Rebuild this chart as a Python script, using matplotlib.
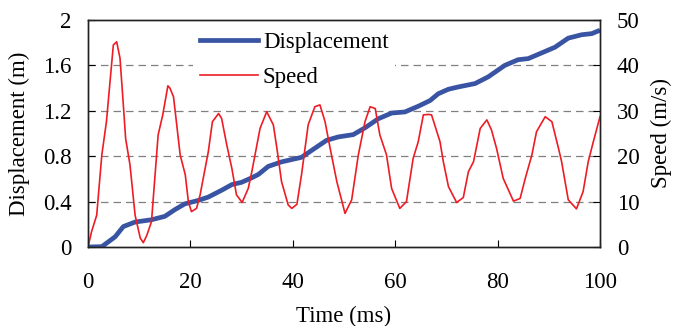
import matplotlib
matplotlib.use('Agg')
import matplotlib.pyplot as plt
from matplotlib.lines import Line2D

plt.rcParams['font.family'] = 'Liberation Serif'
plt.rcParams['font.size'] = 16.5

# Speed (m/s) vs time (ms)
speed_t = [0, 0.7, 1.7, 2.7, 3.6, 4.3, 4.95, 5.6, 6.25, 6.9, 7.35, 8.2, 9.2, 10.2, 10.8,
           11.5, 12.4, 13.7, 14.6, 15.6, 16.0, 16.7, 18.0, 19.0, 19.6, 20.2, 21.2, 21.9,
           22.5, 23.5, 24.3, 25.5, 26.1, 27.1, 28.1, 29.0, 30.1, 31.3, 32.0, 33.6,
           34.9, 36.2, 36.9, 37.8, 39.1, 39.8, 40.8, 41.7, 43.0, 44.3, 45.3, 46.3, 47.3,
           48.6, 50.2, 51.5, 52.8, 54.1, 55.1, 56.1, 57.0, 58.3, 59.3, 60.9, 62.2, 63.5,
           64.5, 65.5, 66.5, 67.1, 68.75, 69.4, 70.4, 72.0, 73.3, 74.3, 75.3, 76.6, 77.9,
           78.8, 79.8, 81.1, 83.1, 84.4, 85.4, 86.7, 87.6, 89.3, 90.6, 91.9, 92.5, 93.8,
           95.4, 96.7, 97.7, 98.7, 100]
speed_v = [0, 3.4, 7.0, 20.3, 27.6, 36.4, 44.5, 45.2, 41.6, 31.3, 23.9, 18.1, 7.0, 2.0, 0.95,
           2.6, 5.6, 24.7, 29.1, 35.5, 35.0, 33.1, 20.3, 15.9, 10.0, 7.8, 8.5, 11.5,
           15.1, 21.0, 27.6, 29.4, 28.3, 22.5, 17.3, 11.5, 9.8, 12.9, 16.6, 26.1,
           29.8, 26.9, 21.7, 14.4, 9.25, 8.5, 9.4, 15.9, 26.9, 30.9, 31.3, 27.6, 21.7,
           14.4, 7.4, 10.4, 20.3, 27.6, 30.9, 30.5, 24.7, 20.3, 12.9, 8.5, 10.0, 19.5,
           23.2, 29.1, 29.2, 29.1, 23.2, 18.8, 13.3, 9.8, 10.9, 16.6, 18.8, 26.1, 28.0,
           25.8, 21.7, 15.1, 10.1, 10.7, 15.1, 20.3, 25.4, 28.7, 27.6, 21.7, 18.8, 10.4,
           8.4, 12.2, 18.8, 23.2, 28.7]

# Displacement (m) vs time (ms)
disp_t = [0, 2.7, 5.3, 6.9, 9.2, 12.4, 15.0, 17.0, 18.9, 21.5, 23.5, 26.1, 28.1, 30.0,
          32.0, 33.3, 35.2, 37.8, 41.7, 44.3, 46.6, 48.9, 51.8, 54.1, 56.7, 59.3, 61.9,
          64.5, 66.8, 68.4, 70.4, 72.3, 75.6, 78.2, 81.4, 84.0, 86.0, 88.6, 91.2, 93.8,
          96.4, 98.4, 100]
disp_v = [0, 0.003, 0.09, 0.18, 0.22, 0.24, 0.27, 0.33, 0.38, 0.41, 0.44, 0.50, 0.55, 0.57,
          0.61, 0.64, 0.71, 0.75, 0.79, 0.87, 0.94, 0.97, 0.99, 1.05, 1.13, 1.18, 1.19,
          1.24, 1.29, 1.35, 1.39, 1.41, 1.44, 1.50, 1.60, 1.65, 1.66, 1.71, 1.76, 1.84,
          1.87, 1.88, 1.91]

x_ticks = [0, 20, 40, 60, 80, 100]
disp_ticks = [0, 0.4, 0.8, 1.2, 1.6, 2]
disp_labels = ['0', '0.4', '0.8', '1.2', '1.6', '2']
speed_ticks = [0, 10, 20, 30, 40, 50]

blue = '#3A54A4'
red = '#EE1C25'

fig = plt.figure(figsize=(6.74, 3.26), dpi=100)
ax = fig.add_axes([88/674, 1 - 247/326, 512/674, 227/326])
ax2 = ax.twinx()

ax.plot(disp_t, disp_v, color=blue, lw=3.4, solid_capstyle='butt')
ax2.plot(speed_t, speed_v, color=red, lw=1.2)

ax.set_xlim(0, 100)
ax.set_ylim(0, 2)
ax2.set_ylim(0, 50)
ax.set_xticks(x_ticks)
ax.set_yticks(disp_ticks)
ax.set_yticklabels(disp_labels)
ax2.set_yticks(speed_ticks)

for y in disp_ticks[1:-1]:
    ax.axhline(y, color='#808080', lw=0.9, ls=(0, (6, 4)), zorder=0)

for a in (ax, ax2):
    for s in a.spines.values():
        s.set_color('#222222')
        s.set_linewidth(1.0)
ax.tick_params(axis='x', direction='in', length=5, pad=18, top=False)
ax.tick_params(axis='y', direction='in', length=5, pad=12)
ax2.tick_params(axis='y', direction='in', length=5, pad=12)

ax.set_xlabel('Time (ms)', labelpad=9)
ax.set_ylabel('Displacement (m)', labelpad=9)
ax2.set_ylabel('Speed (m/s)', labelpad=8)

handles = [Line2D([], [], color=blue, lw=3.4), Line2D([], [], color=red, lw=1.2)]
leg = ax2.legend(handles, ['Displacement', 'Speed'], loc='upper left',
                 bbox_to_anchor=(193/674, 1 - 25/326), bbox_transform=fig.transFigure,
                 frameon=True, fancybox=False, framealpha=1, edgecolor='none',
                 borderaxespad=0, handlelength=2.53, handletextpad=0.22,
                 labelspacing=0.6, borderpad=0.3)

fig.savefig('out.png', dpi=100)
